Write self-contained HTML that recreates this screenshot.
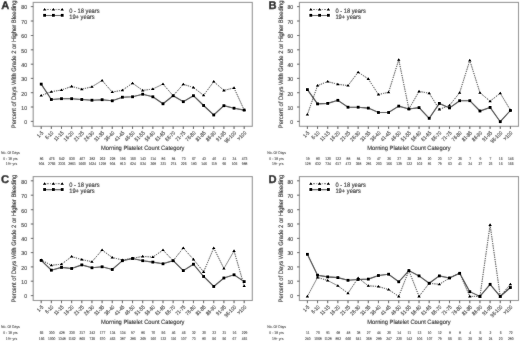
<!DOCTYPE html>
<html><head><meta charset="utf-8"><style>
html,body{margin:0;padding:0;background:#fff;width:520px;height:341px;overflow:hidden}
svg{display:block}
text{font-family:"Liberation Sans",sans-serif;fill:#111;stroke:#111;stroke-width:0.1px;text-rendering:geometricPrecision}
text.s{fill:#222;stroke:#222;stroke-width:0.05px}
text.t{stroke-width:0.1px;fill:#1a1a1a;stroke:#1a1a1a}
</style></head><body>
<svg width="520" height="341" viewBox="0 0 520 341">
<defs><filter id="bl" x="0" y="0" width="520" height="341" filterUnits="userSpaceOnUse"><feConvolveMatrix order="3" kernelMatrix="1 2 1 2 28 2 1 2 1" divisor="40" edgeMode="duplicate" preserveAlpha="true"/></filter></defs>
<g filter="url(#bl)">
<rect width="520" height="341" fill="#fff"/>
<g transform="translate(0,0)">
<text x="1.13" y="9.3" font-size="11.2" font-weight="bold" style="stroke-width:0.3px;fill:#000;stroke:#000">A</text>
<text transform="translate(16.00,64.35) rotate(-90) scale(0.92,1)" text-anchor="middle" font-size="6.36">Percent of Days With Grade 2 or Higher Bleeding</text>
<rect x="33.2" y="2.4" width="219.10" height="123.90" fill="none" stroke="#8a8a8a" stroke-width="1.05"/>
<line x1="30.8" x2="33.2" y1="121.40" y2="121.40" stroke="#444" stroke-width="0.9"/>
<text transform="translate(27.0,124.20) scale(0.88,1)" text-anchor="end" font-size="5.8" class="t">0</text>
<line x1="30.8" x2="33.2" y1="107.00" y2="107.00" stroke="#444" stroke-width="0.9"/>
<text transform="translate(27.0,109.80) scale(0.88,1)" text-anchor="end" font-size="5.8" class="t">10</text>
<line x1="30.8" x2="33.2" y1="92.70" y2="92.70" stroke="#444" stroke-width="0.9"/>
<text transform="translate(27.0,95.50) scale(0.88,1)" text-anchor="end" font-size="5.8" class="t">20</text>
<line x1="30.8" x2="33.2" y1="78.40" y2="78.40" stroke="#444" stroke-width="0.9"/>
<text transform="translate(27.0,81.20) scale(0.88,1)" text-anchor="end" font-size="5.8" class="t">30</text>
<line x1="30.8" x2="33.2" y1="64.20" y2="64.20" stroke="#444" stroke-width="0.9"/>
<text transform="translate(27.0,67.00) scale(0.88,1)" text-anchor="end" font-size="5.8" class="t">40</text>
<line x1="30.8" x2="33.2" y1="49.80" y2="49.80" stroke="#444" stroke-width="0.9"/>
<text transform="translate(27.0,52.60) scale(0.88,1)" text-anchor="end" font-size="5.8" class="t">50</text>
<line x1="30.8" x2="33.2" y1="35.50" y2="35.50" stroke="#444" stroke-width="0.9"/>
<text transform="translate(27.0,38.30) scale(0.88,1)" text-anchor="end" font-size="5.8" class="t">60</text>
<line x1="30.8" x2="33.2" y1="21.00" y2="21.00" stroke="#444" stroke-width="0.9"/>
<text transform="translate(27.0,23.80) scale(0.88,1)" text-anchor="end" font-size="5.8" class="t">70</text>
<line x1="30.8" x2="33.2" y1="6.60" y2="6.60" stroke="#444" stroke-width="0.9"/>
<text transform="translate(27.0,9.40) scale(0.88,1)" text-anchor="end" font-size="5.8" class="t">80</text>
<line x1="41.20" x2="41.20" y1="126.3" y2="129.0" stroke="#444" stroke-width="1.0"/>
<text transform="translate(43.75,133.25) rotate(-45) scale(0.86,1)" text-anchor="end" font-size="5.4" class="t">1-5</text>
<line x1="51.35" x2="51.35" y1="126.3" y2="129.0" stroke="#444" stroke-width="1.0"/>
<text transform="translate(53.90,133.25) rotate(-45) scale(0.86,1)" text-anchor="end" font-size="5.4" class="t">6-10</text>
<line x1="61.50" x2="61.50" y1="126.3" y2="129.0" stroke="#444" stroke-width="1.0"/>
<text transform="translate(64.05,133.25) rotate(-45) scale(0.86,1)" text-anchor="end" font-size="5.4" class="t">11-15</text>
<line x1="71.65" x2="71.65" y1="126.3" y2="129.0" stroke="#444" stroke-width="1.0"/>
<text transform="translate(74.20,133.25) rotate(-45) scale(0.86,1)" text-anchor="end" font-size="5.4" class="t">16-20</text>
<line x1="81.80" x2="81.80" y1="126.3" y2="129.0" stroke="#444" stroke-width="1.0"/>
<text transform="translate(84.35,133.25) rotate(-45) scale(0.86,1)" text-anchor="end" font-size="5.4" class="t">21-25</text>
<line x1="91.95" x2="91.95" y1="126.3" y2="129.0" stroke="#444" stroke-width="1.0"/>
<text transform="translate(94.50,133.25) rotate(-45) scale(0.86,1)" text-anchor="end" font-size="5.4" class="t">26-30</text>
<line x1="102.10" x2="102.10" y1="126.3" y2="129.0" stroke="#444" stroke-width="1.0"/>
<text transform="translate(104.65,133.25) rotate(-45) scale(0.86,1)" text-anchor="end" font-size="5.4" class="t">31-35</text>
<line x1="112.25" x2="112.25" y1="126.3" y2="129.0" stroke="#444" stroke-width="1.0"/>
<text transform="translate(114.80,133.25) rotate(-45) scale(0.86,1)" text-anchor="end" font-size="5.4" class="t">36-40</text>
<line x1="122.40" x2="122.40" y1="126.3" y2="129.0" stroke="#444" stroke-width="1.0"/>
<text transform="translate(124.95,133.25) rotate(-45) scale(0.86,1)" text-anchor="end" font-size="5.4" class="t">41-45</text>
<line x1="132.55" x2="132.55" y1="126.3" y2="129.0" stroke="#444" stroke-width="1.0"/>
<text transform="translate(135.10,133.25) rotate(-45) scale(0.86,1)" text-anchor="end" font-size="5.4" class="t">46-50</text>
<line x1="142.70" x2="142.70" y1="126.3" y2="129.0" stroke="#444" stroke-width="1.0"/>
<text transform="translate(145.25,133.25) rotate(-45) scale(0.86,1)" text-anchor="end" font-size="5.4" class="t">51-55</text>
<line x1="152.85" x2="152.85" y1="126.3" y2="129.0" stroke="#444" stroke-width="1.0"/>
<text transform="translate(155.40,133.25) rotate(-45) scale(0.86,1)" text-anchor="end" font-size="5.4" class="t">56-60</text>
<line x1="163.00" x2="163.00" y1="126.3" y2="129.0" stroke="#444" stroke-width="1.0"/>
<text transform="translate(165.55,133.25) rotate(-45) scale(0.86,1)" text-anchor="end" font-size="5.4" class="t">61-65</text>
<line x1="173.15" x2="173.15" y1="126.3" y2="129.0" stroke="#444" stroke-width="1.0"/>
<text transform="translate(175.70,133.25) rotate(-45) scale(0.86,1)" text-anchor="end" font-size="5.4" class="t">66-70</text>
<line x1="183.30" x2="183.30" y1="126.3" y2="129.0" stroke="#444" stroke-width="1.0"/>
<text transform="translate(185.85,133.25) rotate(-45) scale(0.86,1)" text-anchor="end" font-size="5.4" class="t">71-75</text>
<line x1="193.45" x2="193.45" y1="126.3" y2="129.0" stroke="#444" stroke-width="1.0"/>
<text transform="translate(196.00,133.25) rotate(-45) scale(0.86,1)" text-anchor="end" font-size="5.4" class="t">76-80</text>
<line x1="203.60" x2="203.60" y1="126.3" y2="129.0" stroke="#444" stroke-width="1.0"/>
<text transform="translate(206.15,133.25) rotate(-45) scale(0.86,1)" text-anchor="end" font-size="5.4" class="t">81-85</text>
<line x1="213.75" x2="213.75" y1="126.3" y2="129.0" stroke="#444" stroke-width="1.0"/>
<text transform="translate(216.30,133.25) rotate(-45) scale(0.86,1)" text-anchor="end" font-size="5.4" class="t">86-90</text>
<line x1="223.90" x2="223.90" y1="126.3" y2="129.0" stroke="#444" stroke-width="1.0"/>
<text transform="translate(226.45,133.25) rotate(-45) scale(0.86,1)" text-anchor="end" font-size="5.4" class="t">91-95</text>
<line x1="234.05" x2="234.05" y1="126.3" y2="129.0" stroke="#444" stroke-width="1.0"/>
<text transform="translate(236.60,133.25) rotate(-45) scale(0.86,1)" text-anchor="end" font-size="5.4" class="t">96-100</text>
<line x1="244.20" x2="244.20" y1="126.3" y2="129.0" stroke="#444" stroke-width="1.0"/>
<text transform="translate(246.75,133.25) rotate(-45) scale(0.86,1)" text-anchor="end" font-size="5.4" class="t">&gt;100</text>
<text transform="translate(142.75,149.6) scale(0.92,1)" text-anchor="middle" font-size="6.25">Morning Platelet Count Category</text>
<path d="M44.6,9.5H62.2" stroke="#111" stroke-width="0.75" stroke-dasharray="0.9 1.3 2 1.3"/>
<path d="M44.6,15.5H62.2" stroke="#000" stroke-width="0.9"/>
<text transform="translate(69.2,12.7) scale(0.915,1)" font-size="6.3">0 - 18 years</text>
<text transform="translate(69.2,19.0) scale(0.915,1)" font-size="6.3">19+ years</text>
<polyline points="41.20,95.50 51.35,91.70 61.50,90.00 71.65,86.40 81.80,89.20 91.95,86.80 102.10,80.50 112.25,92.10 122.40,90.20 132.55,83.20 142.70,90.40 152.85,89.00 163.00,84.10 173.15,95.70 183.30,84.30 193.45,87.50 203.60,95.30 213.75,81.60 223.90,90.40 234.05,87.90 244.20,110.10" fill="none" stroke="#000" stroke-width="1.0" stroke-linecap="round" stroke-dasharray="0.4 1.9"/>
<polyline points="41.20,84.10 51.35,99.50 61.50,98.70 71.65,98.70 81.80,99.50 91.95,100.20 102.10,99.70 112.25,100.80 122.40,97.20 132.55,96.80 142.70,94.20 152.85,96.80 163.00,103.80 173.15,95.70 183.30,101.70 193.45,95.70 203.60,105.50 213.75,115.00 223.90,105.70 234.05,108.20 244.20,110.10" fill="none" stroke="#111" stroke-width="1.1"/>
<text transform="translate(1.1,154.1) scale(0.88,1)" font-size="3.92" class="s">No. Of Days</text>
<text transform="translate(17.5,159.8) scale(0.88,1)" text-anchor="end" font-size="3.92" class="s">0 - 18 yrs</text>
<text transform="translate(17.2,165.4) scale(0.88,1)" text-anchor="end" font-size="3.92" class="s">19+ yrs</text>
<text transform="translate(41.60,159.5) scale(0.88,1)" text-anchor="middle" font-size="3.8" class="s">86</text>
<text transform="translate(51.75,159.5) scale(0.88,1)" text-anchor="middle" font-size="3.8" class="s">475</text>
<text transform="translate(61.90,159.5) scale(0.88,1)" text-anchor="middle" font-size="3.8" class="s">542</text>
<text transform="translate(72.05,159.5) scale(0.88,1)" text-anchor="middle" font-size="3.8" class="s">530</text>
<text transform="translate(82.20,159.5) scale(0.88,1)" text-anchor="middle" font-size="3.8" class="s">407</text>
<text transform="translate(92.35,159.5) scale(0.88,1)" text-anchor="middle" font-size="3.8" class="s">282</text>
<text transform="translate(102.50,159.5) scale(0.88,1)" text-anchor="middle" font-size="3.8" class="s">262</text>
<text transform="translate(112.65,159.5) scale(0.88,1)" text-anchor="middle" font-size="3.8" class="s">228</text>
<text transform="translate(122.80,159.5) scale(0.88,1)" text-anchor="middle" font-size="3.8" class="s">196</text>
<text transform="translate(132.95,159.5) scale(0.88,1)" text-anchor="middle" font-size="3.8" class="s">150</text>
<text transform="translate(143.10,159.5) scale(0.88,1)" text-anchor="middle" font-size="3.8" class="s">143</text>
<text transform="translate(153.25,159.5) scale(0.88,1)" text-anchor="middle" font-size="3.8" class="s">114</text>
<text transform="translate(163.40,159.5) scale(0.88,1)" text-anchor="middle" font-size="3.8" class="s">86</text>
<text transform="translate(173.55,159.5) scale(0.88,1)" text-anchor="middle" font-size="3.8" class="s">84</text>
<text transform="translate(183.70,159.5) scale(0.88,1)" text-anchor="middle" font-size="3.8" class="s">73</text>
<text transform="translate(193.85,159.5) scale(0.88,1)" text-anchor="middle" font-size="3.8" class="s">67</text>
<text transform="translate(204.00,159.5) scale(0.88,1)" text-anchor="middle" font-size="3.8" class="s">43</text>
<text transform="translate(214.15,159.5) scale(0.88,1)" text-anchor="middle" font-size="3.8" class="s">40</text>
<text transform="translate(224.30,159.5) scale(0.88,1)" text-anchor="middle" font-size="3.8" class="s">41</text>
<text transform="translate(234.45,159.5) scale(0.88,1)" text-anchor="middle" font-size="3.8" class="s">34</text>
<text transform="translate(244.60,159.5) scale(0.88,1)" text-anchor="middle" font-size="3.8" class="s">473</text>
<text transform="translate(41.60,165.4) scale(0.88,1)" text-anchor="middle" font-size="3.8" class="s">904</text>
<text transform="translate(51.75,165.4) scale(0.88,1)" text-anchor="middle" font-size="3.8" class="s">2765</text>
<text transform="translate(61.90,165.4) scale(0.88,1)" text-anchor="middle" font-size="3.8" class="s">3331</text>
<text transform="translate(72.05,165.4) scale(0.88,1)" text-anchor="middle" font-size="3.8" class="s">2861</text>
<text transform="translate(82.20,165.4) scale(0.88,1)" text-anchor="middle" font-size="3.8" class="s">1660</text>
<text transform="translate(92.35,165.4) scale(0.88,1)" text-anchor="middle" font-size="3.8" class="s">1624</text>
<text transform="translate(102.50,165.4) scale(0.88,1)" text-anchor="middle" font-size="3.8" class="s">1218</text>
<text transform="translate(112.65,165.4) scale(0.88,1)" text-anchor="middle" font-size="3.8" class="s">904</text>
<text transform="translate(122.80,165.4) scale(0.88,1)" text-anchor="middle" font-size="3.8" class="s">813</text>
<text transform="translate(132.95,165.4) scale(0.88,1)" text-anchor="middle" font-size="3.8" class="s">624</text>
<text transform="translate(143.10,165.4) scale(0.88,1)" text-anchor="middle" font-size="3.8" class="s">534</text>
<text transform="translate(153.25,165.4) scale(0.88,1)" text-anchor="middle" font-size="3.8" class="s">368</text>
<text transform="translate(163.40,165.4) scale(0.88,1)" text-anchor="middle" font-size="3.8" class="s">331</text>
<text transform="translate(173.55,165.4) scale(0.88,1)" text-anchor="middle" font-size="3.8" class="s">274</text>
<text transform="translate(183.70,165.4) scale(0.88,1)" text-anchor="middle" font-size="3.8" class="s">225</text>
<text transform="translate(193.85,165.4) scale(0.88,1)" text-anchor="middle" font-size="3.8" class="s">183</text>
<text transform="translate(204.00,165.4) scale(0.88,1)" text-anchor="middle" font-size="3.8" class="s">146</text>
<text transform="translate(214.15,165.4) scale(0.88,1)" text-anchor="middle" font-size="3.8" class="s">119</text>
<text transform="translate(224.30,165.4) scale(0.88,1)" text-anchor="middle" font-size="3.8" class="s">95</text>
<text transform="translate(234.45,165.4) scale(0.88,1)" text-anchor="middle" font-size="3.8" class="s">105</text>
<text transform="translate(244.60,165.4) scale(0.88,1)" text-anchor="middle" font-size="3.8" class="s">988</text>
</g>
<g transform="translate(266.2,0)">
<text x="2.36" y="8.7" font-size="11.2" font-weight="bold" style="stroke-width:0.3px;fill:#000;stroke:#000">B</text>
<text transform="translate(16.40,64.35) rotate(-90) scale(0.92,1)" text-anchor="middle" font-size="6.36">Percent of Days With Grade 2 or Higher Bleeding</text>
<rect x="33.2" y="2.4" width="219.10" height="123.90" fill="none" stroke="#8a8a8a" stroke-width="1.05"/>
<line x1="30.8" x2="33.2" y1="121.40" y2="121.40" stroke="#444" stroke-width="0.9"/>
<text transform="translate(27.0,124.20) scale(0.88,1)" text-anchor="end" font-size="5.8" class="t">0</text>
<line x1="30.8" x2="33.2" y1="107.00" y2="107.00" stroke="#444" stroke-width="0.9"/>
<text transform="translate(27.0,109.80) scale(0.88,1)" text-anchor="end" font-size="5.8" class="t">10</text>
<line x1="30.8" x2="33.2" y1="92.70" y2="92.70" stroke="#444" stroke-width="0.9"/>
<text transform="translate(27.0,95.50) scale(0.88,1)" text-anchor="end" font-size="5.8" class="t">20</text>
<line x1="30.8" x2="33.2" y1="78.40" y2="78.40" stroke="#444" stroke-width="0.9"/>
<text transform="translate(27.0,81.20) scale(0.88,1)" text-anchor="end" font-size="5.8" class="t">30</text>
<line x1="30.8" x2="33.2" y1="64.20" y2="64.20" stroke="#444" stroke-width="0.9"/>
<text transform="translate(27.0,67.00) scale(0.88,1)" text-anchor="end" font-size="5.8" class="t">40</text>
<line x1="30.8" x2="33.2" y1="49.80" y2="49.80" stroke="#444" stroke-width="0.9"/>
<text transform="translate(27.0,52.60) scale(0.88,1)" text-anchor="end" font-size="5.8" class="t">50</text>
<line x1="30.8" x2="33.2" y1="35.50" y2="35.50" stroke="#444" stroke-width="0.9"/>
<text transform="translate(27.0,38.30) scale(0.88,1)" text-anchor="end" font-size="5.8" class="t">60</text>
<line x1="30.8" x2="33.2" y1="21.00" y2="21.00" stroke="#444" stroke-width="0.9"/>
<text transform="translate(27.0,23.80) scale(0.88,1)" text-anchor="end" font-size="5.8" class="t">70</text>
<line x1="30.8" x2="33.2" y1="6.60" y2="6.60" stroke="#444" stroke-width="0.9"/>
<text transform="translate(27.0,9.40) scale(0.88,1)" text-anchor="end" font-size="5.8" class="t">80</text>
<line x1="41.20" x2="41.20" y1="126.3" y2="129.0" stroke="#444" stroke-width="1.0"/>
<text transform="translate(43.75,133.25) rotate(-45) scale(0.86,1)" text-anchor="end" font-size="5.4" class="t">1-5</text>
<line x1="51.35" x2="51.35" y1="126.3" y2="129.0" stroke="#444" stroke-width="1.0"/>
<text transform="translate(53.90,133.25) rotate(-45) scale(0.86,1)" text-anchor="end" font-size="5.4" class="t">6-10</text>
<line x1="61.50" x2="61.50" y1="126.3" y2="129.0" stroke="#444" stroke-width="1.0"/>
<text transform="translate(64.05,133.25) rotate(-45) scale(0.86,1)" text-anchor="end" font-size="5.4" class="t">11-15</text>
<line x1="71.65" x2="71.65" y1="126.3" y2="129.0" stroke="#444" stroke-width="1.0"/>
<text transform="translate(74.20,133.25) rotate(-45) scale(0.86,1)" text-anchor="end" font-size="5.4" class="t">16-20</text>
<line x1="81.80" x2="81.80" y1="126.3" y2="129.0" stroke="#444" stroke-width="1.0"/>
<text transform="translate(84.35,133.25) rotate(-45) scale(0.86,1)" text-anchor="end" font-size="5.4" class="t">21-25</text>
<line x1="91.95" x2="91.95" y1="126.3" y2="129.0" stroke="#444" stroke-width="1.0"/>
<text transform="translate(94.50,133.25) rotate(-45) scale(0.86,1)" text-anchor="end" font-size="5.4" class="t">26-30</text>
<line x1="102.10" x2="102.10" y1="126.3" y2="129.0" stroke="#444" stroke-width="1.0"/>
<text transform="translate(104.65,133.25) rotate(-45) scale(0.86,1)" text-anchor="end" font-size="5.4" class="t">31-35</text>
<line x1="112.25" x2="112.25" y1="126.3" y2="129.0" stroke="#444" stroke-width="1.0"/>
<text transform="translate(114.80,133.25) rotate(-45) scale(0.86,1)" text-anchor="end" font-size="5.4" class="t">36-40</text>
<line x1="122.40" x2="122.40" y1="126.3" y2="129.0" stroke="#444" stroke-width="1.0"/>
<text transform="translate(124.95,133.25) rotate(-45) scale(0.86,1)" text-anchor="end" font-size="5.4" class="t">41-45</text>
<line x1="132.55" x2="132.55" y1="126.3" y2="129.0" stroke="#444" stroke-width="1.0"/>
<text transform="translate(135.10,133.25) rotate(-45) scale(0.86,1)" text-anchor="end" font-size="5.4" class="t">46-50</text>
<line x1="142.70" x2="142.70" y1="126.3" y2="129.0" stroke="#444" stroke-width="1.0"/>
<text transform="translate(145.25,133.25) rotate(-45) scale(0.86,1)" text-anchor="end" font-size="5.4" class="t">51-55</text>
<line x1="152.85" x2="152.85" y1="126.3" y2="129.0" stroke="#444" stroke-width="1.0"/>
<text transform="translate(155.40,133.25) rotate(-45) scale(0.86,1)" text-anchor="end" font-size="5.4" class="t">56-60</text>
<line x1="163.00" x2="163.00" y1="126.3" y2="129.0" stroke="#444" stroke-width="1.0"/>
<text transform="translate(165.55,133.25) rotate(-45) scale(0.86,1)" text-anchor="end" font-size="5.4" class="t">61-65</text>
<line x1="173.15" x2="173.15" y1="126.3" y2="129.0" stroke="#444" stroke-width="1.0"/>
<text transform="translate(175.70,133.25) rotate(-45) scale(0.86,1)" text-anchor="end" font-size="5.4" class="t">66-70</text>
<line x1="183.30" x2="183.30" y1="126.3" y2="129.0" stroke="#444" stroke-width="1.0"/>
<text transform="translate(185.85,133.25) rotate(-45) scale(0.86,1)" text-anchor="end" font-size="5.4" class="t">71-75</text>
<line x1="193.45" x2="193.45" y1="126.3" y2="129.0" stroke="#444" stroke-width="1.0"/>
<text transform="translate(196.00,133.25) rotate(-45) scale(0.86,1)" text-anchor="end" font-size="5.4" class="t">76-80</text>
<line x1="203.60" x2="203.60" y1="126.3" y2="129.0" stroke="#444" stroke-width="1.0"/>
<text transform="translate(206.15,133.25) rotate(-45) scale(0.86,1)" text-anchor="end" font-size="5.4" class="t">81-85</text>
<line x1="213.75" x2="213.75" y1="126.3" y2="129.0" stroke="#444" stroke-width="1.0"/>
<text transform="translate(216.30,133.25) rotate(-45) scale(0.86,1)" text-anchor="end" font-size="5.4" class="t">86-90</text>
<line x1="223.90" x2="223.90" y1="126.3" y2="129.0" stroke="#444" stroke-width="1.0"/>
<text transform="translate(226.45,133.25) rotate(-45) scale(0.86,1)" text-anchor="end" font-size="5.4" class="t">91-95</text>
<line x1="234.05" x2="234.05" y1="126.3" y2="129.0" stroke="#444" stroke-width="1.0"/>
<text transform="translate(236.60,133.25) rotate(-45) scale(0.86,1)" text-anchor="end" font-size="5.4" class="t">96-100</text>
<line x1="244.20" x2="244.20" y1="126.3" y2="129.0" stroke="#444" stroke-width="1.0"/>
<text transform="translate(246.75,133.25) rotate(-45) scale(0.86,1)" text-anchor="end" font-size="5.4" class="t">&gt;100</text>
<text transform="translate(142.75,149.6) scale(0.92,1)" text-anchor="middle" font-size="6.25">Morning Platelet Count Category</text>
<path d="M44.6,9.5H62.2" stroke="#111" stroke-width="0.75" stroke-dasharray="0.9 1.3 2 1.3"/>
<path d="M44.6,15.5H62.2" stroke="#000" stroke-width="0.9"/>
<text transform="translate(69.2,12.7) scale(0.915,1)" font-size="6.3">0 - 18 years</text>
<text transform="translate(69.2,19.0) scale(0.915,1)" font-size="6.3">19+ years</text>
<polyline points="41.20,114.50 51.35,85.60 61.50,81.60 71.65,84.30 81.80,85.60 91.95,72.20 102.10,78.90 112.25,94.50 122.40,92.30 132.55,59.80 142.70,109.00 152.85,91.40 163.00,93.20 173.15,109.40 183.30,105.40 193.45,92.70 203.60,60.40 213.75,92.70 223.90,101.20 234.05,93.20 244.20,110.10" fill="none" stroke="#000" stroke-width="1.0" stroke-linecap="round" stroke-dasharray="0.4 1.9"/>
<polyline points="41.20,89.60 51.35,103.90 61.50,103.40 71.65,100.30 81.80,107.20 91.95,107.20 102.10,108.10 112.25,112.50 122.40,112.50 132.55,106.10 142.70,109.00 152.85,107.60 163.00,118.30 173.15,103.40 183.30,107.90 193.45,100.70 203.60,100.70 213.75,111.00 223.90,107.40 234.05,121.70 244.20,110.50" fill="none" stroke="#111" stroke-width="1.1"/>
<text transform="translate(1.1,154.1) scale(0.88,1)" font-size="3.92" class="s">No. Of Days</text>
<text transform="translate(17.5,159.8) scale(0.88,1)" text-anchor="end" font-size="3.92" class="s">0 - 18 yrs</text>
<text transform="translate(17.2,165.4) scale(0.88,1)" text-anchor="end" font-size="3.92" class="s">19+ yrs</text>
<text transform="translate(41.60,159.5) scale(0.88,1)" text-anchor="middle" font-size="3.8" class="s">19</text>
<text transform="translate(51.75,159.5) scale(0.88,1)" text-anchor="middle" font-size="3.8" class="s">80</text>
<text transform="translate(61.90,159.5) scale(0.88,1)" text-anchor="middle" font-size="3.8" class="s">120</text>
<text transform="translate(72.05,159.5) scale(0.88,1)" text-anchor="middle" font-size="3.8" class="s">122</text>
<text transform="translate(82.20,159.5) scale(0.88,1)" text-anchor="middle" font-size="3.8" class="s">88</text>
<text transform="translate(92.35,159.5) scale(0.88,1)" text-anchor="middle" font-size="3.8" class="s">84</text>
<text transform="translate(102.50,159.5) scale(0.88,1)" text-anchor="middle" font-size="3.8" class="s">70</text>
<text transform="translate(112.65,159.5) scale(0.88,1)" text-anchor="middle" font-size="3.8" class="s">47</text>
<text transform="translate(122.80,159.5) scale(0.88,1)" text-anchor="middle" font-size="3.8" class="s">36</text>
<text transform="translate(132.95,159.5) scale(0.88,1)" text-anchor="middle" font-size="3.8" class="s">37</text>
<text transform="translate(143.10,159.5) scale(0.88,1)" text-anchor="middle" font-size="3.8" class="s">35</text>
<text transform="translate(153.25,159.5) scale(0.88,1)" text-anchor="middle" font-size="3.8" class="s">28</text>
<text transform="translate(163.40,159.5) scale(0.88,1)" text-anchor="middle" font-size="3.8" class="s">20</text>
<text transform="translate(173.55,159.5) scale(0.88,1)" text-anchor="middle" font-size="3.8" class="s">23</text>
<text transform="translate(183.70,159.5) scale(0.88,1)" text-anchor="middle" font-size="3.8" class="s">17</text>
<text transform="translate(193.85,159.5) scale(0.88,1)" text-anchor="middle" font-size="3.8" class="s">25</text>
<text transform="translate(204.00,159.5) scale(0.88,1)" text-anchor="middle" font-size="3.8" class="s">7</text>
<text transform="translate(214.15,159.5) scale(0.88,1)" text-anchor="middle" font-size="3.8" class="s">9</text>
<text transform="translate(224.30,159.5) scale(0.88,1)" text-anchor="middle" font-size="3.8" class="s">7</text>
<text transform="translate(234.45,159.5) scale(0.88,1)" text-anchor="middle" font-size="3.8" class="s">15</text>
<text transform="translate(244.60,159.5) scale(0.88,1)" text-anchor="middle" font-size="3.8" class="s">146</text>
<text transform="translate(41.60,165.4) scale(0.88,1)" text-anchor="middle" font-size="3.8" class="s">128</text>
<text transform="translate(51.75,165.4) scale(0.88,1)" text-anchor="middle" font-size="3.8" class="s">632</text>
<text transform="translate(61.90,165.4) scale(0.88,1)" text-anchor="middle" font-size="3.8" class="s">734</text>
<text transform="translate(72.05,165.4) scale(0.88,1)" text-anchor="middle" font-size="3.8" class="s">617</text>
<text transform="translate(82.20,165.4) scale(0.88,1)" text-anchor="middle" font-size="3.8" class="s">473</text>
<text transform="translate(92.35,165.4) scale(0.88,1)" text-anchor="middle" font-size="3.8" class="s">358</text>
<text transform="translate(102.50,165.4) scale(0.88,1)" text-anchor="middle" font-size="3.8" class="s">281</text>
<text transform="translate(112.65,165.4) scale(0.88,1)" text-anchor="middle" font-size="3.8" class="s">203</text>
<text transform="translate(122.80,165.4) scale(0.88,1)" text-anchor="middle" font-size="3.8" class="s">166</text>
<text transform="translate(132.95,165.4) scale(0.88,1)" text-anchor="middle" font-size="3.8" class="s">139</text>
<text transform="translate(143.10,165.4) scale(0.88,1)" text-anchor="middle" font-size="3.8" class="s">122</text>
<text transform="translate(153.25,165.4) scale(0.88,1)" text-anchor="middle" font-size="3.8" class="s">102</text>
<text transform="translate(163.40,165.4) scale(0.88,1)" text-anchor="middle" font-size="3.8" class="s">81</text>
<text transform="translate(173.55,165.4) scale(0.88,1)" text-anchor="middle" font-size="3.8" class="s">79</text>
<text transform="translate(183.70,165.4) scale(0.88,1)" text-anchor="middle" font-size="3.8" class="s">63</text>
<text transform="translate(193.85,165.4) scale(0.88,1)" text-anchor="middle" font-size="3.8" class="s">41</text>
<text transform="translate(204.00,165.4) scale(0.88,1)" text-anchor="middle" font-size="3.8" class="s">34</text>
<text transform="translate(214.15,165.4) scale(0.88,1)" text-anchor="middle" font-size="3.8" class="s">27</text>
<text transform="translate(224.30,165.4) scale(0.88,1)" text-anchor="middle" font-size="3.8" class="s">23</text>
<text transform="translate(234.45,165.4) scale(0.88,1)" text-anchor="middle" font-size="3.8" class="s">16</text>
<text transform="translate(244.60,165.4) scale(0.88,1)" text-anchor="middle" font-size="3.8" class="s">165</text>
</g>
<g transform="translate(0,174.2)">
<text x="0.94" y="9.3" font-size="11.2" font-weight="bold" style="stroke-width:0.3px;fill:#000;stroke:#000">C</text>
<text transform="translate(16.00,64.35) rotate(-90) scale(0.92,1)" text-anchor="middle" font-size="6.36">Percent of Days With Grade 2 or Higher Bleeding</text>
<rect x="33.2" y="2.4" width="219.10" height="123.90" fill="none" stroke="#8a8a8a" stroke-width="1.05"/>
<line x1="30.8" x2="33.2" y1="121.40" y2="121.40" stroke="#444" stroke-width="0.9"/>
<text transform="translate(27.0,124.20) scale(0.88,1)" text-anchor="end" font-size="5.8" class="t">0</text>
<line x1="30.8" x2="33.2" y1="107.00" y2="107.00" stroke="#444" stroke-width="0.9"/>
<text transform="translate(27.0,109.80) scale(0.88,1)" text-anchor="end" font-size="5.8" class="t">10</text>
<line x1="30.8" x2="33.2" y1="92.70" y2="92.70" stroke="#444" stroke-width="0.9"/>
<text transform="translate(27.0,95.50) scale(0.88,1)" text-anchor="end" font-size="5.8" class="t">20</text>
<line x1="30.8" x2="33.2" y1="78.40" y2="78.40" stroke="#444" stroke-width="0.9"/>
<text transform="translate(27.0,81.20) scale(0.88,1)" text-anchor="end" font-size="5.8" class="t">30</text>
<line x1="30.8" x2="33.2" y1="64.20" y2="64.20" stroke="#444" stroke-width="0.9"/>
<text transform="translate(27.0,67.00) scale(0.88,1)" text-anchor="end" font-size="5.8" class="t">40</text>
<line x1="30.8" x2="33.2" y1="49.80" y2="49.80" stroke="#444" stroke-width="0.9"/>
<text transform="translate(27.0,52.60) scale(0.88,1)" text-anchor="end" font-size="5.8" class="t">50</text>
<line x1="30.8" x2="33.2" y1="35.50" y2="35.50" stroke="#444" stroke-width="0.9"/>
<text transform="translate(27.0,38.30) scale(0.88,1)" text-anchor="end" font-size="5.8" class="t">60</text>
<line x1="30.8" x2="33.2" y1="21.00" y2="21.00" stroke="#444" stroke-width="0.9"/>
<text transform="translate(27.0,23.80) scale(0.88,1)" text-anchor="end" font-size="5.8" class="t">70</text>
<line x1="30.8" x2="33.2" y1="6.60" y2="6.60" stroke="#444" stroke-width="0.9"/>
<text transform="translate(27.0,9.40) scale(0.88,1)" text-anchor="end" font-size="5.8" class="t">80</text>
<line x1="41.20" x2="41.20" y1="126.3" y2="129.0" stroke="#444" stroke-width="1.0"/>
<text transform="translate(43.75,133.25) rotate(-45) scale(0.86,1)" text-anchor="end" font-size="5.4" class="t">1-5</text>
<line x1="51.35" x2="51.35" y1="126.3" y2="129.0" stroke="#444" stroke-width="1.0"/>
<text transform="translate(53.90,133.25) rotate(-45) scale(0.86,1)" text-anchor="end" font-size="5.4" class="t">6-10</text>
<line x1="61.50" x2="61.50" y1="126.3" y2="129.0" stroke="#444" stroke-width="1.0"/>
<text transform="translate(64.05,133.25) rotate(-45) scale(0.86,1)" text-anchor="end" font-size="5.4" class="t">11-15</text>
<line x1="71.65" x2="71.65" y1="126.3" y2="129.0" stroke="#444" stroke-width="1.0"/>
<text transform="translate(74.20,133.25) rotate(-45) scale(0.86,1)" text-anchor="end" font-size="5.4" class="t">16-20</text>
<line x1="81.80" x2="81.80" y1="126.3" y2="129.0" stroke="#444" stroke-width="1.0"/>
<text transform="translate(84.35,133.25) rotate(-45) scale(0.86,1)" text-anchor="end" font-size="5.4" class="t">21-25</text>
<line x1="91.95" x2="91.95" y1="126.3" y2="129.0" stroke="#444" stroke-width="1.0"/>
<text transform="translate(94.50,133.25) rotate(-45) scale(0.86,1)" text-anchor="end" font-size="5.4" class="t">26-30</text>
<line x1="102.10" x2="102.10" y1="126.3" y2="129.0" stroke="#444" stroke-width="1.0"/>
<text transform="translate(104.65,133.25) rotate(-45) scale(0.86,1)" text-anchor="end" font-size="5.4" class="t">31-35</text>
<line x1="112.25" x2="112.25" y1="126.3" y2="129.0" stroke="#444" stroke-width="1.0"/>
<text transform="translate(114.80,133.25) rotate(-45) scale(0.86,1)" text-anchor="end" font-size="5.4" class="t">36-40</text>
<line x1="122.40" x2="122.40" y1="126.3" y2="129.0" stroke="#444" stroke-width="1.0"/>
<text transform="translate(124.95,133.25) rotate(-45) scale(0.86,1)" text-anchor="end" font-size="5.4" class="t">41-45</text>
<line x1="132.55" x2="132.55" y1="126.3" y2="129.0" stroke="#444" stroke-width="1.0"/>
<text transform="translate(135.10,133.25) rotate(-45) scale(0.86,1)" text-anchor="end" font-size="5.4" class="t">46-50</text>
<line x1="142.70" x2="142.70" y1="126.3" y2="129.0" stroke="#444" stroke-width="1.0"/>
<text transform="translate(145.25,133.25) rotate(-45) scale(0.86,1)" text-anchor="end" font-size="5.4" class="t">51-55</text>
<line x1="152.85" x2="152.85" y1="126.3" y2="129.0" stroke="#444" stroke-width="1.0"/>
<text transform="translate(155.40,133.25) rotate(-45) scale(0.86,1)" text-anchor="end" font-size="5.4" class="t">56-60</text>
<line x1="163.00" x2="163.00" y1="126.3" y2="129.0" stroke="#444" stroke-width="1.0"/>
<text transform="translate(165.55,133.25) rotate(-45) scale(0.86,1)" text-anchor="end" font-size="5.4" class="t">61-65</text>
<line x1="173.15" x2="173.15" y1="126.3" y2="129.0" stroke="#444" stroke-width="1.0"/>
<text transform="translate(175.70,133.25) rotate(-45) scale(0.86,1)" text-anchor="end" font-size="5.4" class="t">66-70</text>
<line x1="183.30" x2="183.30" y1="126.3" y2="129.0" stroke="#444" stroke-width="1.0"/>
<text transform="translate(185.85,133.25) rotate(-45) scale(0.86,1)" text-anchor="end" font-size="5.4" class="t">71-75</text>
<line x1="193.45" x2="193.45" y1="126.3" y2="129.0" stroke="#444" stroke-width="1.0"/>
<text transform="translate(196.00,133.25) rotate(-45) scale(0.86,1)" text-anchor="end" font-size="5.4" class="t">76-80</text>
<line x1="203.60" x2="203.60" y1="126.3" y2="129.0" stroke="#444" stroke-width="1.0"/>
<text transform="translate(206.15,133.25) rotate(-45) scale(0.86,1)" text-anchor="end" font-size="5.4" class="t">81-85</text>
<line x1="213.75" x2="213.75" y1="126.3" y2="129.0" stroke="#444" stroke-width="1.0"/>
<text transform="translate(216.30,133.25) rotate(-45) scale(0.86,1)" text-anchor="end" font-size="5.4" class="t">86-90</text>
<line x1="223.90" x2="223.90" y1="126.3" y2="129.0" stroke="#444" stroke-width="1.0"/>
<text transform="translate(226.45,133.25) rotate(-45) scale(0.86,1)" text-anchor="end" font-size="5.4" class="t">91-95</text>
<line x1="234.05" x2="234.05" y1="126.3" y2="129.0" stroke="#444" stroke-width="1.0"/>
<text transform="translate(236.60,133.25) rotate(-45) scale(0.86,1)" text-anchor="end" font-size="5.4" class="t">96-100</text>
<line x1="244.20" x2="244.20" y1="126.3" y2="129.0" stroke="#444" stroke-width="1.0"/>
<text transform="translate(246.75,133.25) rotate(-45) scale(0.86,1)" text-anchor="end" font-size="5.4" class="t">&gt;100</text>
<text transform="translate(142.75,149.6) scale(0.92,1)" text-anchor="middle" font-size="6.25">Morning Platelet Count Category</text>
<path d="M44.6,9.5H62.2" stroke="#111" stroke-width="0.75" stroke-dasharray="0.9 1.3 2 1.3"/>
<path d="M44.6,15.5H62.2" stroke="#000" stroke-width="0.9"/>
<text transform="translate(69.2,12.7) scale(0.915,1)" font-size="6.3">0 - 18 years</text>
<text transform="translate(69.2,19.0) scale(0.915,1)" font-size="6.3">19+ years</text>
<polyline points="41.20,85.80 51.35,91.10 61.50,90.00 71.65,82.40 81.80,85.40 91.95,87.50 102.10,75.90 112.25,83.30 122.40,85.80 132.55,84.10 142.70,82.20 152.85,82.90 163.00,75.90 173.15,86.50 183.30,73.80 193.45,85.20 203.60,97.70 213.75,73.80 223.90,94.30 234.05,76.70 244.20,111.80" fill="none" stroke="#000" stroke-width="1.0" stroke-linecap="round" stroke-dasharray="0.4 1.9"/>
<polyline points="41.20,86.20 51.35,96.00 61.50,93.20 71.65,94.30 81.80,90.70 91.95,93.60 102.10,92.60 112.25,95.30 122.40,86.50 132.55,84.30 142.70,86.50 152.85,87.90 163.00,89.60 173.15,86.50 183.30,96.40 193.45,90.00 203.60,102.30 213.75,112.30 223.90,103.80 234.05,100.60 244.20,107.40" fill="none" stroke="#111" stroke-width="1.1"/>
<text transform="translate(1.1,154.1) scale(0.88,1)" font-size="3.92" class="s">No. Of Days</text>
<text transform="translate(17.5,159.8) scale(0.88,1)" text-anchor="end" font-size="3.92" class="s">0 - 18 yrs</text>
<text transform="translate(17.2,165.4) scale(0.88,1)" text-anchor="end" font-size="3.92" class="s">19+ yrs</text>
<text transform="translate(41.60,159.5) scale(0.88,1)" text-anchor="middle" font-size="3.8" class="s">55</text>
<text transform="translate(51.75,159.5) scale(0.88,1)" text-anchor="middle" font-size="3.8" class="s">300</text>
<text transform="translate(61.90,159.5) scale(0.88,1)" text-anchor="middle" font-size="3.8" class="s">428</text>
<text transform="translate(72.05,159.5) scale(0.88,1)" text-anchor="middle" font-size="3.8" class="s">330</text>
<text transform="translate(82.20,159.5) scale(0.88,1)" text-anchor="middle" font-size="3.8" class="s">317</text>
<text transform="translate(92.35,159.5) scale(0.88,1)" text-anchor="middle" font-size="3.8" class="s">243</text>
<text transform="translate(102.50,159.5) scale(0.88,1)" text-anchor="middle" font-size="3.8" class="s">177</text>
<text transform="translate(112.65,159.5) scale(0.88,1)" text-anchor="middle" font-size="3.8" class="s">134</text>
<text transform="translate(122.80,159.5) scale(0.88,1)" text-anchor="middle" font-size="3.8" class="s">134</text>
<text transform="translate(132.95,159.5) scale(0.88,1)" text-anchor="middle" font-size="3.8" class="s">97</text>
<text transform="translate(143.10,159.5) scale(0.88,1)" text-anchor="middle" font-size="3.8" class="s">86</text>
<text transform="translate(153.25,159.5) scale(0.88,1)" text-anchor="middle" font-size="3.8" class="s">70</text>
<text transform="translate(163.40,159.5) scale(0.88,1)" text-anchor="middle" font-size="3.8" class="s">56</text>
<text transform="translate(173.55,159.5) scale(0.88,1)" text-anchor="middle" font-size="3.8" class="s">46</text>
<text transform="translate(183.70,159.5) scale(0.88,1)" text-anchor="middle" font-size="3.8" class="s">45</text>
<text transform="translate(193.85,159.5) scale(0.88,1)" text-anchor="middle" font-size="3.8" class="s">32</text>
<text transform="translate(204.00,159.5) scale(0.88,1)" text-anchor="middle" font-size="3.8" class="s">30</text>
<text transform="translate(214.15,159.5) scale(0.88,1)" text-anchor="middle" font-size="3.8" class="s">33</text>
<text transform="translate(224.30,159.5) scale(0.88,1)" text-anchor="middle" font-size="3.8" class="s">31</text>
<text transform="translate(234.45,159.5) scale(0.88,1)" text-anchor="middle" font-size="3.8" class="s">16</text>
<text transform="translate(244.60,159.5) scale(0.88,1)" text-anchor="middle" font-size="3.8" class="s">229</text>
<text transform="translate(41.60,165.4) scale(0.88,1)" text-anchor="middle" font-size="3.8" class="s">166</text>
<text transform="translate(51.75,165.4) scale(0.88,1)" text-anchor="middle" font-size="3.8" class="s">1000</text>
<text transform="translate(61.90,165.4) scale(0.88,1)" text-anchor="middle" font-size="3.8" class="s">1348</text>
<text transform="translate(72.05,165.4) scale(0.88,1)" text-anchor="middle" font-size="3.8" class="s">1162</text>
<text transform="translate(82.20,165.4) scale(0.88,1)" text-anchor="middle" font-size="3.8" class="s">865</text>
<text transform="translate(92.35,165.4) scale(0.88,1)" text-anchor="middle" font-size="3.8" class="s">725</text>
<text transform="translate(102.50,165.4) scale(0.88,1)" text-anchor="middle" font-size="3.8" class="s">570</text>
<text transform="translate(112.65,165.4) scale(0.88,1)" text-anchor="middle" font-size="3.8" class="s">463</text>
<text transform="translate(122.80,165.4) scale(0.88,1)" text-anchor="middle" font-size="3.8" class="s">387</text>
<text transform="translate(132.95,165.4) scale(0.88,1)" text-anchor="middle" font-size="3.8" class="s">285</text>
<text transform="translate(143.10,165.4) scale(0.88,1)" text-anchor="middle" font-size="3.8" class="s">269</text>
<text transform="translate(153.25,165.4) scale(0.88,1)" text-anchor="middle" font-size="3.8" class="s">160</text>
<text transform="translate(163.40,165.4) scale(0.88,1)" text-anchor="middle" font-size="3.8" class="s">133</text>
<text transform="translate(173.55,165.4) scale(0.88,1)" text-anchor="middle" font-size="3.8" class="s">116</text>
<text transform="translate(183.70,165.4) scale(0.88,1)" text-anchor="middle" font-size="3.8" class="s">107</text>
<text transform="translate(193.85,165.4) scale(0.88,1)" text-anchor="middle" font-size="3.8" class="s">73</text>
<text transform="translate(204.00,165.4) scale(0.88,1)" text-anchor="middle" font-size="3.8" class="s">80</text>
<text transform="translate(214.15,165.4) scale(0.88,1)" text-anchor="middle" font-size="3.8" class="s">56</text>
<text transform="translate(224.30,165.4) scale(0.88,1)" text-anchor="middle" font-size="3.8" class="s">56</text>
<text transform="translate(234.45,165.4) scale(0.88,1)" text-anchor="middle" font-size="3.8" class="s">67</text>
<text transform="translate(244.60,165.4) scale(0.88,1)" text-anchor="middle" font-size="3.8" class="s">451</text>
</g>
<g transform="translate(266.2,174.2)">
<text x="2.36" y="9.1" font-size="11.2" font-weight="bold" style="stroke-width:0.3px;fill:#000;stroke:#000">D</text>
<text transform="translate(16.40,64.35) rotate(-90) scale(0.92,1)" text-anchor="middle" font-size="6.36">Percent of Days With Grade 2 or Higher Bleeding</text>
<rect x="33.2" y="2.4" width="219.10" height="123.90" fill="none" stroke="#8a8a8a" stroke-width="1.05"/>
<line x1="30.8" x2="33.2" y1="121.40" y2="121.40" stroke="#444" stroke-width="0.9"/>
<text transform="translate(27.0,124.20) scale(0.88,1)" text-anchor="end" font-size="5.8" class="t">0</text>
<line x1="30.8" x2="33.2" y1="107.00" y2="107.00" stroke="#444" stroke-width="0.9"/>
<text transform="translate(27.0,109.80) scale(0.88,1)" text-anchor="end" font-size="5.8" class="t">10</text>
<line x1="30.8" x2="33.2" y1="92.70" y2="92.70" stroke="#444" stroke-width="0.9"/>
<text transform="translate(27.0,95.50) scale(0.88,1)" text-anchor="end" font-size="5.8" class="t">20</text>
<line x1="30.8" x2="33.2" y1="78.40" y2="78.40" stroke="#444" stroke-width="0.9"/>
<text transform="translate(27.0,81.20) scale(0.88,1)" text-anchor="end" font-size="5.8" class="t">30</text>
<line x1="30.8" x2="33.2" y1="64.20" y2="64.20" stroke="#444" stroke-width="0.9"/>
<text transform="translate(27.0,67.00) scale(0.88,1)" text-anchor="end" font-size="5.8" class="t">40</text>
<line x1="30.8" x2="33.2" y1="49.80" y2="49.80" stroke="#444" stroke-width="0.9"/>
<text transform="translate(27.0,52.60) scale(0.88,1)" text-anchor="end" font-size="5.8" class="t">50</text>
<line x1="30.8" x2="33.2" y1="35.50" y2="35.50" stroke="#444" stroke-width="0.9"/>
<text transform="translate(27.0,38.30) scale(0.88,1)" text-anchor="end" font-size="5.8" class="t">60</text>
<line x1="30.8" x2="33.2" y1="21.00" y2="21.00" stroke="#444" stroke-width="0.9"/>
<text transform="translate(27.0,23.80) scale(0.88,1)" text-anchor="end" font-size="5.8" class="t">70</text>
<line x1="30.8" x2="33.2" y1="6.60" y2="6.60" stroke="#444" stroke-width="0.9"/>
<text transform="translate(27.0,9.40) scale(0.88,1)" text-anchor="end" font-size="5.8" class="t">80</text>
<line x1="41.20" x2="41.20" y1="126.3" y2="129.0" stroke="#444" stroke-width="1.0"/>
<text transform="translate(43.75,133.25) rotate(-45) scale(0.86,1)" text-anchor="end" font-size="5.4" class="t">1-5</text>
<line x1="51.35" x2="51.35" y1="126.3" y2="129.0" stroke="#444" stroke-width="1.0"/>
<text transform="translate(53.90,133.25) rotate(-45) scale(0.86,1)" text-anchor="end" font-size="5.4" class="t">6-10</text>
<line x1="61.50" x2="61.50" y1="126.3" y2="129.0" stroke="#444" stroke-width="1.0"/>
<text transform="translate(64.05,133.25) rotate(-45) scale(0.86,1)" text-anchor="end" font-size="5.4" class="t">11-15</text>
<line x1="71.65" x2="71.65" y1="126.3" y2="129.0" stroke="#444" stroke-width="1.0"/>
<text transform="translate(74.20,133.25) rotate(-45) scale(0.86,1)" text-anchor="end" font-size="5.4" class="t">16-20</text>
<line x1="81.80" x2="81.80" y1="126.3" y2="129.0" stroke="#444" stroke-width="1.0"/>
<text transform="translate(84.35,133.25) rotate(-45) scale(0.86,1)" text-anchor="end" font-size="5.4" class="t">21-25</text>
<line x1="91.95" x2="91.95" y1="126.3" y2="129.0" stroke="#444" stroke-width="1.0"/>
<text transform="translate(94.50,133.25) rotate(-45) scale(0.86,1)" text-anchor="end" font-size="5.4" class="t">26-30</text>
<line x1="102.10" x2="102.10" y1="126.3" y2="129.0" stroke="#444" stroke-width="1.0"/>
<text transform="translate(104.65,133.25) rotate(-45) scale(0.86,1)" text-anchor="end" font-size="5.4" class="t">31-35</text>
<line x1="112.25" x2="112.25" y1="126.3" y2="129.0" stroke="#444" stroke-width="1.0"/>
<text transform="translate(114.80,133.25) rotate(-45) scale(0.86,1)" text-anchor="end" font-size="5.4" class="t">36-40</text>
<line x1="122.40" x2="122.40" y1="126.3" y2="129.0" stroke="#444" stroke-width="1.0"/>
<text transform="translate(124.95,133.25) rotate(-45) scale(0.86,1)" text-anchor="end" font-size="5.4" class="t">41-45</text>
<line x1="132.55" x2="132.55" y1="126.3" y2="129.0" stroke="#444" stroke-width="1.0"/>
<text transform="translate(135.10,133.25) rotate(-45) scale(0.86,1)" text-anchor="end" font-size="5.4" class="t">46-50</text>
<line x1="142.70" x2="142.70" y1="126.3" y2="129.0" stroke="#444" stroke-width="1.0"/>
<text transform="translate(145.25,133.25) rotate(-45) scale(0.86,1)" text-anchor="end" font-size="5.4" class="t">51-55</text>
<line x1="152.85" x2="152.85" y1="126.3" y2="129.0" stroke="#444" stroke-width="1.0"/>
<text transform="translate(155.40,133.25) rotate(-45) scale(0.86,1)" text-anchor="end" font-size="5.4" class="t">56-60</text>
<line x1="163.00" x2="163.00" y1="126.3" y2="129.0" stroke="#444" stroke-width="1.0"/>
<text transform="translate(165.55,133.25) rotate(-45) scale(0.86,1)" text-anchor="end" font-size="5.4" class="t">61-65</text>
<line x1="173.15" x2="173.15" y1="126.3" y2="129.0" stroke="#444" stroke-width="1.0"/>
<text transform="translate(175.70,133.25) rotate(-45) scale(0.86,1)" text-anchor="end" font-size="5.4" class="t">66-70</text>
<line x1="183.30" x2="183.30" y1="126.3" y2="129.0" stroke="#444" stroke-width="1.0"/>
<text transform="translate(185.85,133.25) rotate(-45) scale(0.86,1)" text-anchor="end" font-size="5.4" class="t">71-75</text>
<line x1="193.45" x2="193.45" y1="126.3" y2="129.0" stroke="#444" stroke-width="1.0"/>
<text transform="translate(196.00,133.25) rotate(-45) scale(0.86,1)" text-anchor="end" font-size="5.4" class="t">76-80</text>
<line x1="203.60" x2="203.60" y1="126.3" y2="129.0" stroke="#444" stroke-width="1.0"/>
<text transform="translate(206.15,133.25) rotate(-45) scale(0.86,1)" text-anchor="end" font-size="5.4" class="t">81-85</text>
<line x1="213.75" x2="213.75" y1="126.3" y2="129.0" stroke="#444" stroke-width="1.0"/>
<text transform="translate(216.30,133.25) rotate(-45) scale(0.86,1)" text-anchor="end" font-size="5.4" class="t">86-90</text>
<line x1="223.90" x2="223.90" y1="126.3" y2="129.0" stroke="#444" stroke-width="1.0"/>
<text transform="translate(226.45,133.25) rotate(-45) scale(0.86,1)" text-anchor="end" font-size="5.4" class="t">91-95</text>
<line x1="234.05" x2="234.05" y1="126.3" y2="129.0" stroke="#444" stroke-width="1.0"/>
<text transform="translate(236.60,133.25) rotate(-45) scale(0.86,1)" text-anchor="end" font-size="5.4" class="t">96-100</text>
<line x1="244.20" x2="244.20" y1="126.3" y2="129.0" stroke="#444" stroke-width="1.0"/>
<text transform="translate(246.75,133.25) rotate(-45) scale(0.86,1)" text-anchor="end" font-size="5.4" class="t">&gt;100</text>
<text transform="translate(142.75,149.6) scale(0.92,1)" text-anchor="middle" font-size="6.25">Morning Platelet Count Category</text>
<path d="M44.6,9.5H62.2" stroke="#111" stroke-width="0.75" stroke-dasharray="0.9 1.3 2 1.3"/>
<path d="M44.6,15.5H62.2" stroke="#000" stroke-width="0.9"/>
<text transform="translate(69.2,12.7) scale(0.915,1)" font-size="6.3">0 - 18 years</text>
<text transform="translate(69.2,19.0) scale(0.915,1)" font-size="6.3">19+ years</text>
<polyline points="41.20,122.20 51.35,103.20 61.50,106.30 71.65,111.60 81.80,119.00 91.95,103.80 102.10,111.60 112.25,112.30 122.40,115.40 132.55,122.20 142.70,96.40 152.85,122.20 163.00,109.10 173.15,110.10 183.30,103.80 193.45,99.10 203.60,122.20 213.75,122.20 223.90,50.70 234.05,122.20 244.20,110.10" fill="none" stroke="#000" stroke-width="1.0" stroke-linecap="round" stroke-dasharray="0.4 1.9"/>
<polyline points="41.20,80.10 51.35,101.00 61.50,102.70 71.65,103.40 81.80,106.10 91.95,105.30 102.10,104.90 112.25,101.30 122.40,100.00 132.55,107.60 142.70,96.40 152.85,101.70 163.00,109.10 173.15,101.70 183.30,103.80 193.45,99.10 203.60,117.50 213.75,122.20 223.90,110.10 234.05,122.20 244.20,113.30" fill="none" stroke="#111" stroke-width="1.1"/>
<text transform="translate(1.1,154.1) scale(0.88,1)" font-size="3.92" class="s">No. Of Days</text>
<text transform="translate(17.5,159.8) scale(0.88,1)" text-anchor="end" font-size="3.92" class="s">0 - 18 yrs</text>
<text transform="translate(17.2,165.4) scale(0.88,1)" text-anchor="end" font-size="3.92" class="s">19+ yrs</text>
<text transform="translate(41.60,159.5) scale(0.88,1)" text-anchor="middle" font-size="3.8" class="s">11</text>
<text transform="translate(51.75,159.5) scale(0.88,1)" text-anchor="middle" font-size="3.8" class="s">70</text>
<text transform="translate(61.90,159.5) scale(0.88,1)" text-anchor="middle" font-size="3.8" class="s">91</text>
<text transform="translate(72.05,159.5) scale(0.88,1)" text-anchor="middle" font-size="3.8" class="s">68</text>
<text transform="translate(82.20,159.5) scale(0.88,1)" text-anchor="middle" font-size="3.8" class="s">48</text>
<text transform="translate(92.35,159.5) scale(0.88,1)" text-anchor="middle" font-size="3.8" class="s">38</text>
<text transform="translate(102.50,159.5) scale(0.88,1)" text-anchor="middle" font-size="3.8" class="s">27</text>
<text transform="translate(112.65,159.5) scale(0.88,1)" text-anchor="middle" font-size="3.8" class="s">44</text>
<text transform="translate(122.80,159.5) scale(0.88,1)" text-anchor="middle" font-size="3.8" class="s">20</text>
<text transform="translate(132.95,159.5) scale(0.88,1)" text-anchor="middle" font-size="3.8" class="s">14</text>
<text transform="translate(143.10,159.5) scale(0.88,1)" text-anchor="middle" font-size="3.8" class="s">11</text>
<text transform="translate(153.25,159.5) scale(0.88,1)" text-anchor="middle" font-size="3.8" class="s">13</text>
<text transform="translate(163.40,159.5) scale(0.88,1)" text-anchor="middle" font-size="3.8" class="s">10</text>
<text transform="translate(173.55,159.5) scale(0.88,1)" text-anchor="middle" font-size="3.8" class="s">12</text>
<text transform="translate(183.70,159.5) scale(0.88,1)" text-anchor="middle" font-size="3.8" class="s">8</text>
<text transform="translate(193.85,159.5) scale(0.88,1)" text-anchor="middle" font-size="3.8" class="s">8</text>
<text transform="translate(204.00,159.5) scale(0.88,1)" text-anchor="middle" font-size="3.8" class="s">4</text>
<text transform="translate(214.15,159.5) scale(0.88,1)" text-anchor="middle" font-size="3.8" class="s">5</text>
<text transform="translate(224.30,159.5) scale(0.88,1)" text-anchor="middle" font-size="3.8" class="s">2</text>
<text transform="translate(234.45,159.5) scale(0.88,1)" text-anchor="middle" font-size="3.8" class="s">5</text>
<text transform="translate(244.60,159.5) scale(0.88,1)" text-anchor="middle" font-size="3.8" class="s">72</text>
<text transform="translate(41.60,165.4) scale(0.88,1)" text-anchor="middle" font-size="3.8" class="s">240</text>
<text transform="translate(51.75,165.4) scale(0.88,1)" text-anchor="middle" font-size="3.8" class="s">1068</text>
<text transform="translate(61.90,165.4) scale(0.88,1)" text-anchor="middle" font-size="3.8" class="s">1128</text>
<text transform="translate(72.05,165.4) scale(0.88,1)" text-anchor="middle" font-size="3.8" class="s">892</text>
<text transform="translate(82.20,165.4) scale(0.88,1)" text-anchor="middle" font-size="3.8" class="s">660</text>
<text transform="translate(92.35,165.4) scale(0.88,1)" text-anchor="middle" font-size="3.8" class="s">541</text>
<text transform="translate(102.50,165.4) scale(0.88,1)" text-anchor="middle" font-size="3.8" class="s">368</text>
<text transform="translate(112.65,165.4) scale(0.88,1)" text-anchor="middle" font-size="3.8" class="s">289</text>
<text transform="translate(122.80,165.4) scale(0.88,1)" text-anchor="middle" font-size="3.8" class="s">247</text>
<text transform="translate(132.95,165.4) scale(0.88,1)" text-anchor="middle" font-size="3.8" class="s">220</text>
<text transform="translate(143.10,165.4) scale(0.88,1)" text-anchor="middle" font-size="3.8" class="s">142</text>
<text transform="translate(153.25,165.4) scale(0.88,1)" text-anchor="middle" font-size="3.8" class="s">106</text>
<text transform="translate(163.40,165.4) scale(0.88,1)" text-anchor="middle" font-size="3.8" class="s">107</text>
<text transform="translate(173.55,165.4) scale(0.88,1)" text-anchor="middle" font-size="3.8" class="s">79</text>
<text transform="translate(183.70,165.4) scale(0.88,1)" text-anchor="middle" font-size="3.8" class="s">55</text>
<text transform="translate(193.85,165.4) scale(0.88,1)" text-anchor="middle" font-size="3.8" class="s">51</text>
<text transform="translate(204.00,165.4) scale(0.88,1)" text-anchor="middle" font-size="3.8" class="s">35</text>
<text transform="translate(214.15,165.4) scale(0.88,1)" text-anchor="middle" font-size="3.8" class="s">36</text>
<text transform="translate(224.30,165.4) scale(0.88,1)" text-anchor="middle" font-size="3.8" class="s">24</text>
<text transform="translate(234.45,165.4) scale(0.88,1)" text-anchor="middle" font-size="3.8" class="s">23</text>
<text transform="translate(244.60,165.4) scale(0.88,1)" text-anchor="middle" font-size="3.8" class="s">280</text>
</g>
</g>
<g fill="#000">
<g transform="translate(0,0)">
<path d="M39.50,96.52L42.90,96.52L41.20,93.97Z"/>
<path d="M49.65,92.72L53.05,92.72L51.35,90.17Z"/>
<path d="M59.80,91.02L63.20,91.02L61.50,88.47Z"/>
<path d="M69.95,87.42L73.35,87.42L71.65,84.87Z"/>
<path d="M80.10,90.22L83.50,90.22L81.80,87.67Z"/>
<path d="M90.25,87.82L93.65,87.82L91.95,85.27Z"/>
<path d="M100.40,81.52L103.80,81.52L102.10,78.97Z"/>
<path d="M110.55,93.12L113.95,93.12L112.25,90.57Z"/>
<path d="M120.70,91.22L124.10,91.22L122.40,88.67Z"/>
<path d="M130.85,84.22L134.25,84.22L132.55,81.67Z"/>
<path d="M141.00,91.42L144.40,91.42L142.70,88.87Z"/>
<path d="M151.15,90.02L154.55,90.02L152.85,87.47Z"/>
<path d="M161.30,85.12L164.70,85.12L163.00,82.57Z"/>
<path d="M171.45,96.72L174.85,96.72L173.15,94.17Z"/>
<path d="M181.60,85.32L185.00,85.32L183.30,82.77Z"/>
<path d="M191.75,88.52L195.15,88.52L193.45,85.97Z"/>
<path d="M201.90,96.32L205.30,96.32L203.60,93.77Z"/>
<path d="M212.05,82.62L215.45,82.62L213.75,80.07Z"/>
<path d="M222.20,91.42L225.60,91.42L223.90,88.87Z"/>
<path d="M232.35,88.92L235.75,88.92L234.05,86.37Z"/>
<path d="M242.50,111.12L245.90,111.12L244.20,108.57Z"/>
<path d="M39.80,82.70h2.80v2.80h-2.80Z"/>
<path d="M49.95,98.10h2.80v2.80h-2.80Z"/>
<path d="M60.10,97.30h2.80v2.80h-2.80Z"/>
<path d="M70.25,97.30h2.80v2.80h-2.80Z"/>
<path d="M80.40,98.10h2.80v2.80h-2.80Z"/>
<path d="M90.55,98.80h2.80v2.80h-2.80Z"/>
<path d="M100.70,98.30h2.80v2.80h-2.80Z"/>
<path d="M110.85,99.40h2.80v2.80h-2.80Z"/>
<path d="M121.00,95.80h2.80v2.80h-2.80Z"/>
<path d="M131.15,95.40h2.80v2.80h-2.80Z"/>
<path d="M141.30,92.80h2.80v2.80h-2.80Z"/>
<path d="M151.45,95.40h2.80v2.80h-2.80Z"/>
<path d="M161.60,102.40h2.80v2.80h-2.80Z"/>
<path d="M171.75,94.30h2.80v2.80h-2.80Z"/>
<path d="M181.90,100.30h2.80v2.80h-2.80Z"/>
<path d="M192.05,94.30h2.80v2.80h-2.80Z"/>
<path d="M202.20,104.10h2.80v2.80h-2.80Z"/>
<path d="M212.35,113.60h2.80v2.80h-2.80Z"/>
<path d="M222.50,104.30h2.80v2.80h-2.80Z"/>
<path d="M232.65,106.80h2.80v2.80h-2.80Z"/>
<path d="M242.80,108.70h2.80v2.80h-2.80Z"/>
<path d="M42.90,10.52L46.30,10.52L44.60,7.97Z"/>
<path d="M43.20,13.90h2.80v2.80h-2.80Z"/>
<path d="M51.70,10.52L55.10,10.52L53.40,7.97Z"/>
<path d="M52.00,13.90h2.80v2.80h-2.80Z"/>
<path d="M60.50,10.52L63.90,10.52L62.20,7.97Z"/>
<path d="M60.80,13.90h2.80v2.80h-2.80Z"/>
</g>
<g transform="translate(266.2,0)">
<path d="M39.50,115.52L42.90,115.52L41.20,112.97Z"/>
<path d="M49.65,86.62L53.05,86.62L51.35,84.07Z"/>
<path d="M59.80,82.62L63.20,82.62L61.50,80.07Z"/>
<path d="M69.95,85.32L73.35,85.32L71.65,82.77Z"/>
<path d="M80.10,86.62L83.50,86.62L81.80,84.07Z"/>
<path d="M90.25,73.22L93.65,73.22L91.95,70.67Z"/>
<path d="M100.40,79.92L103.80,79.92L102.10,77.37Z"/>
<path d="M110.55,95.52L113.95,95.52L112.25,92.97Z"/>
<path d="M120.70,93.32L124.10,93.32L122.40,90.77Z"/>
<path d="M130.85,60.82L134.25,60.82L132.55,58.27Z"/>
<path d="M141.00,110.02L144.40,110.02L142.70,107.47Z"/>
<path d="M151.15,92.42L154.55,92.42L152.85,89.87Z"/>
<path d="M161.30,94.22L164.70,94.22L163.00,91.67Z"/>
<path d="M171.45,110.42L174.85,110.42L173.15,107.87Z"/>
<path d="M181.60,106.42L185.00,106.42L183.30,103.87Z"/>
<path d="M191.75,93.72L195.15,93.72L193.45,91.17Z"/>
<path d="M201.90,61.42L205.30,61.42L203.60,58.87Z"/>
<path d="M212.05,93.72L215.45,93.72L213.75,91.17Z"/>
<path d="M222.20,102.22L225.60,102.22L223.90,99.67Z"/>
<path d="M232.35,94.22L235.75,94.22L234.05,91.67Z"/>
<path d="M242.50,111.12L245.90,111.12L244.20,108.57Z"/>
<path d="M39.80,88.20h2.80v2.80h-2.80Z"/>
<path d="M49.95,102.50h2.80v2.80h-2.80Z"/>
<path d="M60.10,102.00h2.80v2.80h-2.80Z"/>
<path d="M70.25,98.90h2.80v2.80h-2.80Z"/>
<path d="M80.40,105.80h2.80v2.80h-2.80Z"/>
<path d="M90.55,105.80h2.80v2.80h-2.80Z"/>
<path d="M100.70,106.70h2.80v2.80h-2.80Z"/>
<path d="M110.85,111.10h2.80v2.80h-2.80Z"/>
<path d="M121.00,111.10h2.80v2.80h-2.80Z"/>
<path d="M131.15,104.70h2.80v2.80h-2.80Z"/>
<path d="M141.30,107.60h2.80v2.80h-2.80Z"/>
<path d="M151.45,106.20h2.80v2.80h-2.80Z"/>
<path d="M161.60,116.90h2.80v2.80h-2.80Z"/>
<path d="M171.75,102.00h2.80v2.80h-2.80Z"/>
<path d="M181.90,106.50h2.80v2.80h-2.80Z"/>
<path d="M192.05,99.30h2.80v2.80h-2.80Z"/>
<path d="M202.20,99.30h2.80v2.80h-2.80Z"/>
<path d="M212.35,109.60h2.80v2.80h-2.80Z"/>
<path d="M222.50,106.00h2.80v2.80h-2.80Z"/>
<path d="M232.65,120.30h2.80v2.80h-2.80Z"/>
<path d="M242.80,109.10h2.80v2.80h-2.80Z"/>
<path d="M42.90,10.52L46.30,10.52L44.60,7.97Z"/>
<path d="M43.20,13.90h2.80v2.80h-2.80Z"/>
<path d="M51.70,10.52L55.10,10.52L53.40,7.97Z"/>
<path d="M52.00,13.90h2.80v2.80h-2.80Z"/>
<path d="M60.50,10.52L63.90,10.52L62.20,7.97Z"/>
<path d="M60.80,13.90h2.80v2.80h-2.80Z"/>
</g>
<g transform="translate(0,174.2)">
<path d="M39.50,86.82L42.90,86.82L41.20,84.27Z"/>
<path d="M49.65,92.12L53.05,92.12L51.35,89.57Z"/>
<path d="M59.80,91.02L63.20,91.02L61.50,88.47Z"/>
<path d="M69.95,83.42L73.35,83.42L71.65,80.87Z"/>
<path d="M80.10,86.42L83.50,86.42L81.80,83.87Z"/>
<path d="M90.25,88.52L93.65,88.52L91.95,85.97Z"/>
<path d="M100.40,76.92L103.80,76.92L102.10,74.37Z"/>
<path d="M110.55,84.32L113.95,84.32L112.25,81.77Z"/>
<path d="M120.70,86.82L124.10,86.82L122.40,84.27Z"/>
<path d="M130.85,85.12L134.25,85.12L132.55,82.57Z"/>
<path d="M141.00,83.22L144.40,83.22L142.70,80.67Z"/>
<path d="M151.15,83.92L154.55,83.92L152.85,81.37Z"/>
<path d="M161.30,76.92L164.70,76.92L163.00,74.37Z"/>
<path d="M171.45,87.52L174.85,87.52L173.15,84.97Z"/>
<path d="M181.60,74.82L185.00,74.82L183.30,72.27Z"/>
<path d="M191.75,86.22L195.15,86.22L193.45,83.67Z"/>
<path d="M201.90,98.72L205.30,98.72L203.60,96.17Z"/>
<path d="M212.05,74.82L215.45,74.82L213.75,72.27Z"/>
<path d="M222.20,95.32L225.60,95.32L223.90,92.77Z"/>
<path d="M232.35,77.72L235.75,77.72L234.05,75.17Z"/>
<path d="M242.50,112.82L245.90,112.82L244.20,110.27Z"/>
<path d="M39.80,84.80h2.80v2.80h-2.80Z"/>
<path d="M49.95,94.60h2.80v2.80h-2.80Z"/>
<path d="M60.10,91.80h2.80v2.80h-2.80Z"/>
<path d="M70.25,92.90h2.80v2.80h-2.80Z"/>
<path d="M80.40,89.30h2.80v2.80h-2.80Z"/>
<path d="M90.55,92.20h2.80v2.80h-2.80Z"/>
<path d="M100.70,91.20h2.80v2.80h-2.80Z"/>
<path d="M110.85,93.90h2.80v2.80h-2.80Z"/>
<path d="M121.00,85.10h2.80v2.80h-2.80Z"/>
<path d="M131.15,82.90h2.80v2.80h-2.80Z"/>
<path d="M141.30,85.10h2.80v2.80h-2.80Z"/>
<path d="M151.45,86.50h2.80v2.80h-2.80Z"/>
<path d="M161.60,88.20h2.80v2.80h-2.80Z"/>
<path d="M171.75,85.10h2.80v2.80h-2.80Z"/>
<path d="M181.90,95.00h2.80v2.80h-2.80Z"/>
<path d="M192.05,88.60h2.80v2.80h-2.80Z"/>
<path d="M202.20,100.90h2.80v2.80h-2.80Z"/>
<path d="M212.35,110.90h2.80v2.80h-2.80Z"/>
<path d="M222.50,102.40h2.80v2.80h-2.80Z"/>
<path d="M232.65,99.20h2.80v2.80h-2.80Z"/>
<path d="M242.80,106.00h2.80v2.80h-2.80Z"/>
<path d="M42.90,10.52L46.30,10.52L44.60,7.97Z"/>
<path d="M43.20,13.90h2.80v2.80h-2.80Z"/>
<path d="M51.70,10.52L55.10,10.52L53.40,7.97Z"/>
<path d="M52.00,13.90h2.80v2.80h-2.80Z"/>
<path d="M60.50,10.52L63.90,10.52L62.20,7.97Z"/>
<path d="M60.80,13.90h2.80v2.80h-2.80Z"/>
</g>
<g transform="translate(266.2,174.2)">
<path d="M39.50,123.22L42.90,123.22L41.20,120.67Z"/>
<path d="M49.65,104.22L53.05,104.22L51.35,101.67Z"/>
<path d="M59.80,107.32L63.20,107.32L61.50,104.77Z"/>
<path d="M69.95,112.62L73.35,112.62L71.65,110.07Z"/>
<path d="M80.10,120.02L83.50,120.02L81.80,117.47Z"/>
<path d="M90.25,104.82L93.65,104.82L91.95,102.27Z"/>
<path d="M100.40,112.62L103.80,112.62L102.10,110.07Z"/>
<path d="M110.55,113.32L113.95,113.32L112.25,110.77Z"/>
<path d="M120.70,116.42L124.10,116.42L122.40,113.87Z"/>
<path d="M130.85,123.22L134.25,123.22L132.55,120.67Z"/>
<path d="M141.00,97.42L144.40,97.42L142.70,94.87Z"/>
<path d="M151.15,123.22L154.55,123.22L152.85,120.67Z"/>
<path d="M161.30,110.12L164.70,110.12L163.00,107.57Z"/>
<path d="M171.45,111.12L174.85,111.12L173.15,108.57Z"/>
<path d="M181.60,104.82L185.00,104.82L183.30,102.27Z"/>
<path d="M191.75,100.12L195.15,100.12L193.45,97.57Z"/>
<path d="M201.90,123.22L205.30,123.22L203.60,120.67Z"/>
<path d="M212.05,123.22L215.45,123.22L213.75,120.67Z"/>
<path d="M222.20,51.72L225.60,51.72L223.90,49.17Z"/>
<path d="M232.35,123.22L235.75,123.22L234.05,120.67Z"/>
<path d="M242.50,111.12L245.90,111.12L244.20,108.57Z"/>
<path d="M39.80,78.70h2.80v2.80h-2.80Z"/>
<path d="M49.95,99.60h2.80v2.80h-2.80Z"/>
<path d="M60.10,101.30h2.80v2.80h-2.80Z"/>
<path d="M70.25,102.00h2.80v2.80h-2.80Z"/>
<path d="M80.40,104.70h2.80v2.80h-2.80Z"/>
<path d="M90.55,103.90h2.80v2.80h-2.80Z"/>
<path d="M100.70,103.50h2.80v2.80h-2.80Z"/>
<path d="M110.85,99.90h2.80v2.80h-2.80Z"/>
<path d="M121.00,98.60h2.80v2.80h-2.80Z"/>
<path d="M131.15,106.20h2.80v2.80h-2.80Z"/>
<path d="M141.30,95.00h2.80v2.80h-2.80Z"/>
<path d="M151.45,100.30h2.80v2.80h-2.80Z"/>
<path d="M161.60,107.70h2.80v2.80h-2.80Z"/>
<path d="M171.75,100.30h2.80v2.80h-2.80Z"/>
<path d="M181.90,102.40h2.80v2.80h-2.80Z"/>
<path d="M192.05,97.70h2.80v2.80h-2.80Z"/>
<path d="M202.20,116.10h2.80v2.80h-2.80Z"/>
<path d="M212.35,120.80h2.80v2.80h-2.80Z"/>
<path d="M222.50,108.70h2.80v2.80h-2.80Z"/>
<path d="M232.65,120.80h2.80v2.80h-2.80Z"/>
<path d="M242.80,111.90h2.80v2.80h-2.80Z"/>
<path d="M42.90,10.52L46.30,10.52L44.60,7.97Z"/>
<path d="M43.20,13.90h2.80v2.80h-2.80Z"/>
<path d="M51.70,10.52L55.10,10.52L53.40,7.97Z"/>
<path d="M52.00,13.90h2.80v2.80h-2.80Z"/>
<path d="M60.50,10.52L63.90,10.52L62.20,7.97Z"/>
<path d="M60.80,13.90h2.80v2.80h-2.80Z"/>
</g>
</g>
</svg>
</body></html>
